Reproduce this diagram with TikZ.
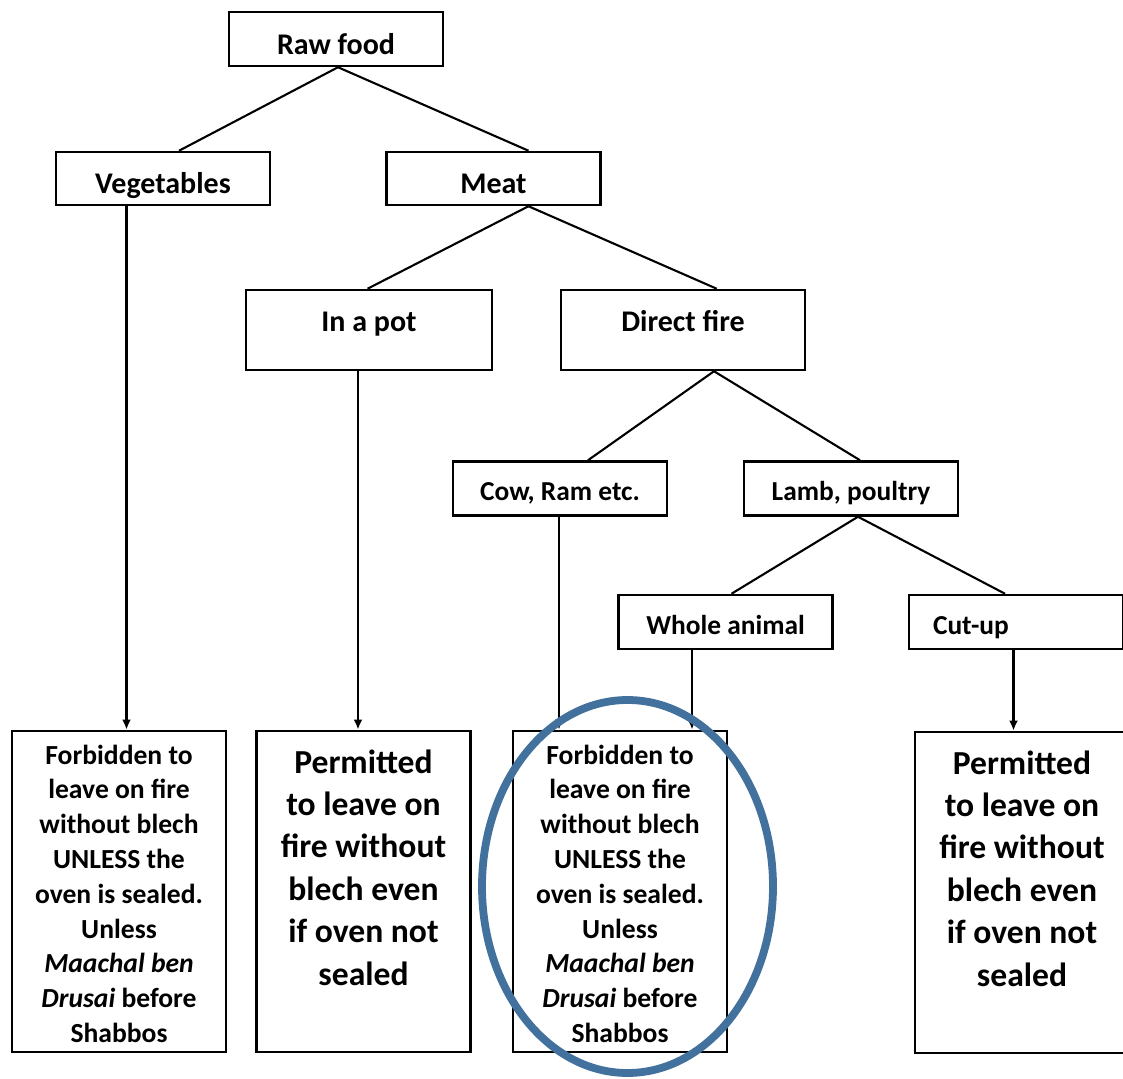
\documentclass[tikz,border=0pt]{standalone}
\usepackage{fontspec}
\setmainfont{Carlito}
\usetikzlibrary{arrows.meta}
\definecolor{ringblue}{RGB}{65,113,156}

\newcommand{\verdictsmall}[1]{%
  \begin{minipage}[c][160.5pt][t]{107pt}\centering
  \fontsize{13.8pt}{17.4pt}\selectfont\bfseries\rule{0pt}{16.5pt}#1
  \end{minipage}}
\newcommand{\verdictlarge}[1]{%
  \begin{minipage}[c][160.5pt][t]{107pt}\centering
  \fontsize{16.8pt}{21.2pt}\selectfont\bfseries\rule{0pt}{21pt}#1
  \end{minipage}}

\begin{document}
\begin{tikzpicture}[x=0.5pt,y=-0.5pt]%
\tikzstyle{box} = [draw, rectangle, line width=1.25pt, inner sep=0pt]
\tikzstyle{headbox} = [box, minimum width=107pt, minimum height=27pt,
    font=\fontsize{15pt}{18pt}\selectfont\bfseries, text height=15.5pt, text depth=0pt]
\tikzstyle{pickbox} = [box, minimum height=40pt,
    font=\fontsize{15pt}{18pt}\selectfont\bfseries, text height=10pt, text depth=8pt]
\tikzstyle{kindbox} = [box, minimum width=107pt, minimum height=27pt,
    font=\fontsize{13.7pt}{16.5pt}\selectfont\bfseries, text height=12pt, text depth=0pt]
\tikzstyle{verdict} = [box, line width=1.45pt, minimum width=107pt, minimum height=160.5pt]
\tikzstyle{link} = [line width=1.05pt]
\tikzstyle{arrowlink} = [link, -{Latex[length=5pt,width=4.5pt]}]
\tikzstyle{ring} = [draw=ringblue, line width=3.9pt]

\useasboundingbox (0,0) rectangle (1123,1079);
\clip (0,0) rectangle (1123,1079);

% tree of boxes
\node[headbox] (raw) at (336,39) {Raw food};
\node[headbox, minimum height=26.5pt] (veg) at (163,178.5) {Vegetables};
\node[headbox, minimum height=26.5pt] (meat) at (493.5,178.5) {Meat};
\node[pickbox, minimum width=123pt] (pot) at (369,330) {In a pot};
\node[pickbox, minimum width=122pt] (fire) at (683,330) {Direct fire};
\node[kindbox] (cow) at (560,488.5) {Cow, Ram etc.};
\node[kindbox] (lamb) at (851,488.5) {Lamb, poultry};
\node[kindbox] (whole) at (725.5,622) {Whole animal};
\node[kindbox, align=left, text width=83pt, inner xsep=12pt] (cut) at (1016,622) {Cut-up};

% verdicts
\node[verdict] (res1) at (119,891.5) {\verdictsmall{Forbidden to\\ leave on fire\\ without blech\\
    UNLESS the\\ oven is sealed.\\ Unless\\ \textit{Maachal ben}\\ \textit{Drusai} before\\ Shabbos}};
\node[verdict] (res2) at (363.5,891.5) {\verdictlarge{Permitted\\ to leave on\\ fire without\\
    blech even\\ if oven not\\ sealed}};
\node[verdict] (res3) at (620,891.5) {\verdictsmall{Forbidden to\\ leave on fire\\ without blech\\
    UNLESS the\\ oven is sealed.\\ Unless\\ \textit{Maachal ben}\\ \textit{Drusai} before\\ Shabbos}};
\node[verdict] (res4) at (1022,892.5) {\verdictlarge{Permitted\\ to leave on\\ fire without\\
    blech even\\ if oven not\\ sealed}};

% branches
\draw[link] ([xshift=1pt]raw.south) -- ([xshift=8pt]veg.north);
\draw[link] ([xshift=1pt]raw.south) -- ([xshift=17.5pt]meat.north);
\draw[link] ([xshift=17.5pt]meat.south) -- ([xshift=-0.75pt]pot.north);
\draw[link] ([xshift=17.5pt]meat.south) -- ([xshift=16.85pt]fire.north);
\draw[link] ([xshift=15.5pt]fire.south) -- ([xshift=14pt]cow.north);
\draw[link] ([xshift=15.5pt]fire.south) -- ([xshift=4.5pt]lamb.north);
\draw[link] ([xshift=3.5pt]lamb.south) -- ([xshift=3pt]whole.north);
\draw[link] ([xshift=3.5pt]lamb.south) -- ([xshift=-5.5pt]cut.north);

% arrows down to the verdicts
\draw[arrowlink] ([xshift=-18.25pt]veg.south) -- ([xshift=3.75pt]res1.north);
\draw[arrowlink] ([xshift=-5.5pt]pot.south) -- ([xshift=-2.75pt]res2.north);
\draw[arrowlink] ([xshift=-0.5pt]cow.south) -- ([xshift=-30.5pt]res3.north);
\draw[arrowlink] ([xshift=-16.75pt]whole.south) -- ([xshift=36pt]res3.north);
\draw[arrowlink] ([xshift=-1.25pt]cut.south) -- ([xshift=-4.25pt]res4.north);

% highlight
\draw[ring] (627.5,886.5) ellipse [x radius=72.75pt, y radius=93.25pt];
\end{tikzpicture}
\end{document}
